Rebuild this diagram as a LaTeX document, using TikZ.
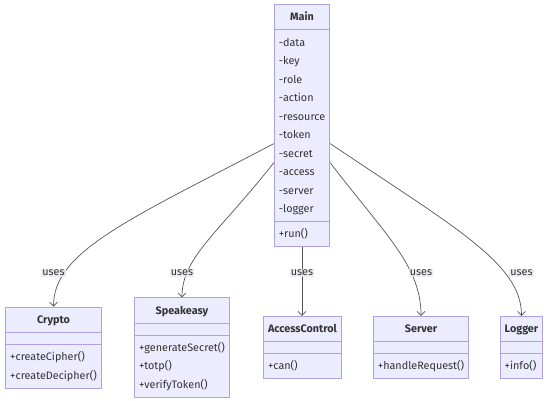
\documentclass[tikz,border=0pt]{standalone}
\usepackage{fontspec}
\setmainfont{Fira Sans}
\usetikzlibrary{shapes.multipart, arrows.meta, positioning}
\definecolor{umlfill}{HTML}{ECECFF}
\definecolor{umlborder}{HTML}{B0A0E4}
\definecolor{umltext}{HTML}{333333}
\definecolor{umledge}{HTML}{555555}
\definecolor{lblbg}{HTML}{E8E8EE}

\begin{document}
\begin{tikzpicture}[x=1pt, y=-1pt,
    cls/.style={rectangle split, rectangle split parts=3, draw=umlborder, fill=umlfill, line width=0.8pt, text=umltext, font=\fontsize{10.8}{18.5}\selectfont, align=left, rectangle split part align={center,left,left}, inner xsep=4.5pt, inner ysep=3pt},
    lbl/.style={fill=lblbg, fill opacity=0.8, text opacity=1, text=umltext, font=\fontsize{10.8}{12}\selectfont, inner sep=1pt},
    dep/.style={-{Straight Barb[length=4pt,width=8pt]}, draw=umledge, line width=0.7pt}
]
    \useasboundingbox (0,0) rectangle (550,401);

    \node[cls, anchor=north] (main) at (302,4) {\strut\textbf{Main}\nodepart{two}\strut-data\\\strut-key\\\strut-role\\\strut-action\\\strut-resource\\\strut-token\\\strut-secret\\\strut-access\\\strut-server\\\strut-logger\nodepart{three}\strut+run()};

    \node[cls] (crypto) at (53.5,347.5) {\strut\textbf{Crypto}\nodepart{two}\nodepart{three}\strut+createCipher()\\\strut+createDecipher()};
    \node[cls] (speakeasy) at (182,347.5) {\strut\textbf{Speakeasy}\nodepart{two}\nodepart{three}\strut+generateSecret()\\\strut+totp()\\\strut+verifyToken()};
    \node[cls] (access) at (302.5,347.5) {\strut\textbf{AccessControl}\nodepart{two}\nodepart{three}\strut+can()};
    \node[cls] (server) at (421,347.5) {\strut\textbf{Server}\nodepart{two}\nodepart{three}\strut+handleRequest()};
    \node[cls] (logger) at (521.5,347.5) {\strut\textbf{Logger}\nodepart{two}\nodepart{three}\strut+info()};

    \draw[dep] ([yshift=-18pt]main.west) .. controls +(-145,76) and +(0,-55) .. (crypto.north);
    \draw[dep] ([yshift=-37pt]main.west) .. controls +(-55,70) and +(0,-40) .. (speakeasy.north);
    \draw[dep] (main.south) -- (main.south |- access.north);
    \draw[dep] ([yshift=-37pt]main.east) .. controls +(55,72) and +(0,-50) .. (server.north);
    \draw[dep] ([yshift=-18pt]main.east) .. controls +(125,84) and +(0,-52) .. (logger.north);

    \node[lbl] (usesaccess) at (main.south |- 0,273) {uses};
    \node[lbl] (usescrypto) at (crypto |- usesaccess) {uses};
    \node[lbl] (usesspeakeasy) at (speakeasy |- usesaccess) {uses};
    \node[lbl] (usesserver) at (server |- usesaccess) {uses};
    \node[lbl] (useslogger) at (logger |- usesaccess) {uses};
\end{tikzpicture}
\end{document}
